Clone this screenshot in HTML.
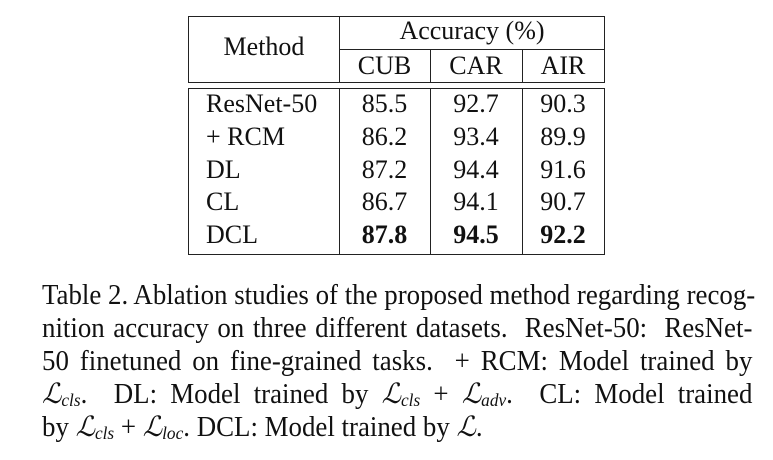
<!DOCTYPE html>
<html><head><style>
body{margin:0;width:773px;height:460px;background:#fff;position:relative;font-family:"Liberation Serif",serif;color:#111;overflow:hidden}
.h{position:absolute;background:#222}
.t{position:absolute;font-size:26px;line-height:1;white-space:nowrap;text-align:center}
.c,.l{position:absolute;left:42px;width:740px;font-size:28px;line-height:1;white-space:nowrap;transform:scaleX(0.96);transform-origin:0 0}
.c{text-align:justify;text-align-last:justify}
i{font-style:italic}
sub{font-size:18px;vertical-align:-3px;font-style:italic;line-height:0}
</style></head><body>
<div class="h" style="left:188px;top:16px;width:417px;height:1.3px"></div>
<div class="h" style="left:339px;top:49px;width:266px;height:1px"></div>
<div class="h" style="left:188px;top:82px;width:417px;height:1.3px"></div>
<div class="h" style="left:188px;top:88px;width:417px;height:1.3px"></div>
<div class="h" style="left:188px;top:254px;width:417px;height:1.3px"></div>
<div class="h" style="left:188px;top:16px;width:1.3px;height:67px"></div>
<div class="h" style="left:188px;top:88px;width:1.3px;height:167px"></div>
<div class="h" style="left:604px;top:16px;width:1.3px;height:67px"></div>
<div class="h" style="left:604px;top:88px;width:1.3px;height:167px"></div>
<div class="h" style="left:339px;top:16px;width:1px;height:67px"></div>
<div class="h" style="left:339px;top:88px;width:1px;height:167px"></div>
<div class="h" style="left:430px;top:49px;width:1px;height:34px"></div>
<div class="h" style="left:430px;top:88px;width:1px;height:167px"></div>
<div class="h" style="left:522px;top:49px;width:1px;height:34px"></div>
<div class="h" style="left:522px;top:88px;width:1px;height:167px"></div>
<div class="t" style="left:189px;width:150px;top:34px">Method</div>
<div class="t" style="left:339px;width:266px;top:18px">Accuracy (%)</div>
<div class="t" style="left:339px;width:91px;top:53px">CUB</div>
<div class="t" style="left:430px;width:92px;top:53px">CAR</div>
<div class="t" style="left:522px;width:82px;top:53px">AIR</div>
<div class="t" style="left:206px;top:91px;text-align:left">ResNet-50</div>
<div class="t" style="left:206px;top:124px;text-align:left">+ RCM</div>
<div class="t" style="left:206px;top:157px;text-align:left">DL</div>
<div class="t" style="left:206px;top:189px;text-align:left">CL</div>
<div class="t" style="left:206px;top:222px;text-align:left">DCL</div>
<div class="t" style="left:339px;width:91px;top:91px">85.5</div>
<div class="t" style="left:430px;width:92px;top:91px">92.7</div>
<div class="t" style="left:522px;width:82px;top:91px">90.3</div>
<div class="t" style="left:339px;width:91px;top:124px">86.2</div>
<div class="t" style="left:430px;width:92px;top:124px">93.4</div>
<div class="t" style="left:522px;width:82px;top:124px">89.9</div>
<div class="t" style="left:339px;width:91px;top:157px">87.2</div>
<div class="t" style="left:430px;width:92px;top:157px">94.4</div>
<div class="t" style="left:522px;width:82px;top:157px">91.6</div>
<div class="t" style="left:339px;width:91px;top:189px">86.7</div>
<div class="t" style="left:430px;width:92px;top:189px">94.1</div>
<div class="t" style="left:522px;width:82px;top:189px">90.7</div>
<div class="t" style="left:339px;width:91px;top:222px;font-weight:bold">87.8</div>
<div class="t" style="left:430px;width:92px;top:222px;font-weight:bold">94.5</div>
<div class="t" style="left:522px;width:82px;top:222px;font-weight:bold">92.2</div>
<div class="c" style="top:282px">Table 2. Ablation studies of the proposed method regarding recog-</div>
<div class="c" style="top:315px">nition accuracy on three different datasets. &nbsp;ResNet-50: &nbsp;ResNet-</div>
<div class="c" style="top:348px">50 finetuned on fine-grained tasks. &nbsp;+ RCM: Model trained by</div>
<div class="c" style="top:381px"><i>ℒ</i><sub>cls</sub>. &nbsp;DL: Model trained by <i>ℒ</i><sub>cls</sub> + <i>ℒ</i><sub>adv</sub>. &nbsp;CL: Model trained</div>
<div class="l" style="top:414px">by <i>ℒ</i><sub>cls</sub> + <i>ℒ</i><sub>loc</sub>. DCL: Model trained by <i>ℒ</i>.</div>
</body></html>
